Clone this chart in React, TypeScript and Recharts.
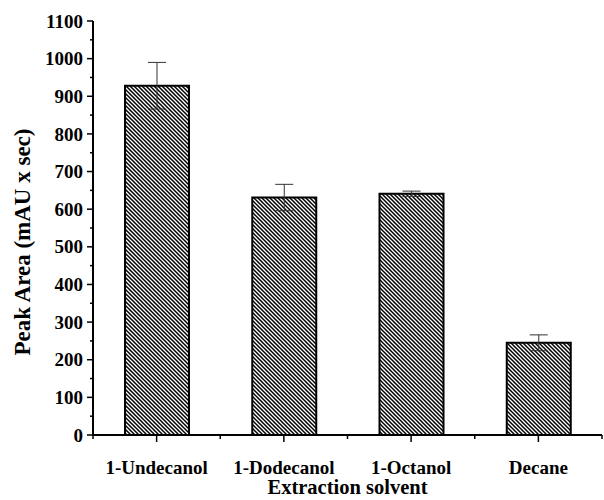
import { BarChart, Bar, XAxis, YAxis, ErrorBar } from "recharts";

const categories = ["1-Undecanol", "1-Dodecanol", "1-Octanol", "Decane"];
const peakArea = [928, 631, 641, 245];
const peakErr = [62, 35, 7, 21];
const yTicks = [0, 50, 100, 150, 200, 250, 300, 350, 400, 450, 500, 550, 600, 650, 700, 750, 800, 850, 900, 950, 1000, 1050, 1100];
const xTicks = [0, 0.5, 1, 1.5, 2, 2.5, 3, 3.5, 4];

const FONT = "'Liberation Serif', 'Times New Roman', serif";

const data = categories.map((name, i) => ({
  pos: i + 0.5,
  name,
  value: peakArea[i],
  err: peakErr[i],
}));

// eslint-disable-next-line @typescript-eslint/no-explicit-any
function YTick(props: any) {
  const { x, y, payload } = props;
  const major = payload.value % 100 === 0;
  return (
    <g>
      <line x1={x} x2={x - (major ? 6 : 3)} y1={y} y2={y} stroke="#000" strokeWidth={1.5} />
      {major && (
        <text x={x - 10} y={y} dy="0.35em" textAnchor="end" fontFamily={FONT} fontWeight="bold" fontSize={19} fill="#000">
          {payload.value}
        </text>
      )}
    </g>
  );
}

// eslint-disable-next-line @typescript-eslint/no-explicit-any
function XTick(props: any) {
  const { x, y, payload } = props;
  const v = Number(payload.value);
  const major = !Number.isInteger(v);
  return (
    <g>
      <line x1={x} x2={x} y1={y} y2={y + (major ? 7 : 4)} stroke="#000" strokeWidth={1.5} />
      {major && (
        <text x={x} y={y + 39} textAnchor="middle" fontFamily={FONT} fontWeight="bold" fontSize={19} fill="#000">
          {categories[Math.floor(v)]}
        </text>
      )}
    </g>
  );
}

// eslint-disable-next-line @typescript-eslint/no-explicit-any
function YLabel(props: any) {
  const { viewBox } = props;
  const cx = viewBox.x + 22;
  const cy = viewBox.y + viewBox.height / 2 + 14;
  return (
    <text
      x={cx}
      y={cy}
      dy="0.35em"
      textAnchor="middle"
      transform={`rotate(-90, ${cx}, ${cy})`}
      fontFamily={FONT}
      fontWeight="bold"
      fontSize={23}
      fill="#000"
    >
      Peak Area (mAU x sec)
    </text>
  );
}

// eslint-disable-next-line @typescript-eslint/no-explicit-any
function XLabel(props: any) {
  const { viewBox } = props;
  const cx = viewBox.x + viewBox.width / 2;
  return (
    <text x={cx} y={viewBox.y + viewBox.height - 6} textAnchor="middle" fontFamily={FONT} fontWeight="bold" fontSize={20.5} fill="#000">
      Extraction solvent
    </text>
  );
}

export default function App() {
  return (
    <div style={{ position: "absolute", left: 0, top: 0, background: "#fff" }}>
      <BarChart width={604} height={500} data={data} margin={{ top: 21, right: 2, left: 0, bottom: 0 }}>
        <defs>
          <pattern id="hatch" patternUnits="userSpaceOnUse" width={4} height={4}>
            <rect width={4} height={4} fill="#fff" />
            <path d="M-1,-1 L5,5 M-1,3 L1,5 M3,-1 L5,1" stroke="#000" strokeWidth={1.5} />
          </pattern>
        </defs>
        <XAxis
          dataKey="pos"
          type="number"
          domain={[0, 4]}
          ticks={xTicks}
          interval={0}
          height={65}
          tickSize={0}
          tickMargin={0}
          tickLine={false}
          axisLine={{ stroke: "#000", strokeWidth: 2 }}
          tick={<XTick />}
          label={<XLabel />}
        />
        <YAxis
          type="number"
          domain={[0, 1100]}
          ticks={yTicks}
          interval={0}
          width={93}
          tickSize={0}
          tickMargin={0}
          tickLine={false}
          axisLine={{ stroke: "#000", strokeWidth: 2 }}
          tick={<YTick />}
          label={<YLabel />}
        />
        <Bar dataKey="value" fill="url(#hatch)" stroke="#000" strokeWidth={2} barSize={64} isAnimationActive={false}>
          <ErrorBar dataKey="err" width={9} stroke="#333" strokeWidth={1} direction="y" />
        </Bar>
      </BarChart>
    </div>
  );
}
